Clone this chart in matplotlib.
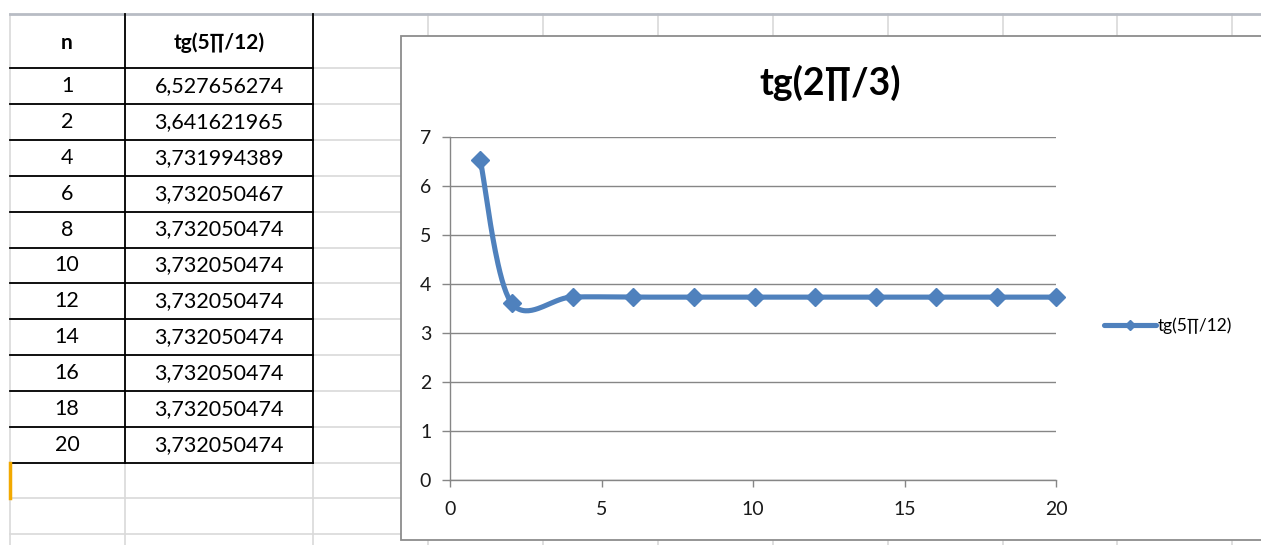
import numpy as np
import matplotlib
matplotlib.use("Agg")
import matplotlib.pyplot as plt
from matplotlib.patches import Rectangle

# ---------------- data ----------------
n_values = [1, 2, 4, 6, 8, 10, 12, 14, 16, 18, 20]
tg_values = [6.527656274, 3.641621965, 3.731994389, 3.732050467, 3.732050474,
             3.732050474, 3.732050474, 3.732050474, 3.732050474, 3.732050474,
             3.732050474]
col_headers = ["n", "tg(5∏/12)"]
series_name = "tg(5∏/12)"
chart_title = "tg(2∏/3)"
x_ticks = [0, 5, 10, 15, 20]
y_ticks = [0, 1, 2, 3, 4, 5, 6, 7]

FONT = ["Lato", "DejaVu Sans"]
plt.rcParams["font.family"] = FONT

W, H = 1261, 545
fig = plt.figure(figsize=(W / 100, H / 100), dpi=100)
fig.patch.set_facecolor("white")

# ---------------- spreadsheet background ----------------
bg = fig.add_axes([0, 0, 1, 1], zorder=0)
bg.set_xlim(0, W)
bg.set_ylim(H, 0)
bg.axis("off")

grid_c = "#D9D9D9"
col_x = [10, 125, 313, 428, 543, 658, 773, 888, 1003, 1117, 1232]
row_y = [14, 68] + [68 + 35.9 * (i + 1) for i in range(len(n_values))] + [498, 534]

for x in col_x:
    bg.plot([x, x], [14, H], color=grid_c, lw=1.2, zorder=1)
for y in row_y[1:]:
    bg.plot([10, W], [y, y], color=grid_c, lw=1.2, zorder=1)
bg.plot([10, W], [14, 14], color="#B8BCC4", lw=2.0, zorder=1)

# table borders
tb_top, tb_bot = 14, row_y[1 + len(n_values)]
for y in row_y[1:2 + len(n_values)]:
    bg.plot([10, 313], [y, y], color="black", lw=1.3, zorder=2)
for x in [125, 313]:
    bg.plot([x, x], [tb_top, tb_bot], color="black", lw=1.3, zorder=2)
bg.plot([10, 10], [tb_bot, 498], color="#F2A900", lw=2.5, zorder=2)

# table text
bg.text(67, 43, col_headers[0], ha="center", va="center", fontsize=15,
        fontweight="bold", family=FONT, zorder=3)
bg.text(219, 43, col_headers[1], ha="center", va="center", fontsize=15,
        fontweight="bold", family=FONT, zorder=3)
for i, (nv, tv) in enumerate(zip(n_values, tg_values)):
    yc = (row_y[1 + i] + row_y[2 + i]) / 2
    bg.text(67, yc, str(nv), ha="center", va="center", fontsize=15.5, family=FONT, zorder=3)
    bg.text(219, yc, f"{tv:.9f}".replace(".", ","), ha="center", va="center",
            fontsize=15.5, family=FONT, zorder=3)

# chart area frame
bg.add_patch(Rectangle((401, 36), W - 401 + 5, 504, facecolor="white",
                       edgecolor="#8C8C8C", lw=1.3, zorder=4))
bg.text(830, 83, chart_title, ha="center", va="center", fontsize=27,
        fontweight="bold", family=FONT, zorder=5)

# ---------------- chart ----------------
left, right = 450 / W, 1056 / W
bottom, top = 1 - 480 / H, 1 - 137 / H
ax = fig.add_axes([left, bottom, right - left, top - bottom], zorder=5)
ax.set_facecolor("none")

# Excel-style smoothed line (Bezier with 1/6 tension through the points)
px = np.array(n_values, float)
py = np.array(tg_values, float)
xs, ys, mark_idx = [], [], []
t = np.linspace(0, 1, 40)
for i in range(len(px) - 1):
    p0 = np.array([px[max(i - 1, 0)], py[max(i - 1, 0)]])
    p1 = np.array([px[i], py[i]])
    p2 = np.array([px[i + 1], py[i + 1]])
    p3 = np.array([px[min(i + 2, len(px) - 1)], py[min(i + 2, len(px) - 1)]])
    c1 = p1 + (p2 - p0) / 6
    c2 = p2 - (p3 - p1) / 6
    seg = ((1 - t) ** 3)[:, None] * p1 + (3 * (1 - t) ** 2 * t)[:, None] * c1 \
        + (3 * (1 - t) * t ** 2)[:, None] * c2 + (t ** 3)[:, None] * p2
    if i > 0:
        seg = seg[1:]
    mark_idx.append(len(xs))
    xs.extend(seg[:, 0])
    ys.extend(seg[:, 1])
mark_idx.append(len(xs) - 1)

line_c = "#4F81BD"
ln, = ax.plot(xs, ys, color=line_c, lw=3.7, marker="D", markersize=9.5,
              markevery=mark_idx, markeredgecolor=line_c, markerfacecolor=line_c,
              solid_capstyle="round", solid_joinstyle="round",
              label=series_name, zorder=3, clip_on=False)

ax.set_xlim(0, 20)
ax.set_ylim(0, 7)
ax.set_xticks(x_ticks)
ax.set_yticks(y_ticks)
ax.grid(axis="y", color="#868686", lw=1.0)
ax.set_axisbelow(True)
for s in ["top", "right"]:
    ax.spines[s].set_visible(False)
for s in ["left", "bottom"]:
    ax.spines[s].set_color("#868686")
    ax.spines[s].set_linewidth(1.0)
ax.tick_params(axis="y", length=5.5, width=1, color="#868686", pad=8,
               labelsize=14, labelcolor="#1a1a1a")
ax.tick_params(axis="x", length=5, width=1, color="#868686", pad=10,
               labelsize=14, labelcolor="#1a1a1a")

fig.legend(handles=[ln], loc="center left", bbox_to_anchor=(1097 / W, 1 - 326 / H),
           frameon=False, fontsize=12.5, handlelength=3.0, handletextpad=0.1,
           markerscale=0.55, borderaxespad=0)

fig.savefig("out.png", dpi=100, facecolor="white")
